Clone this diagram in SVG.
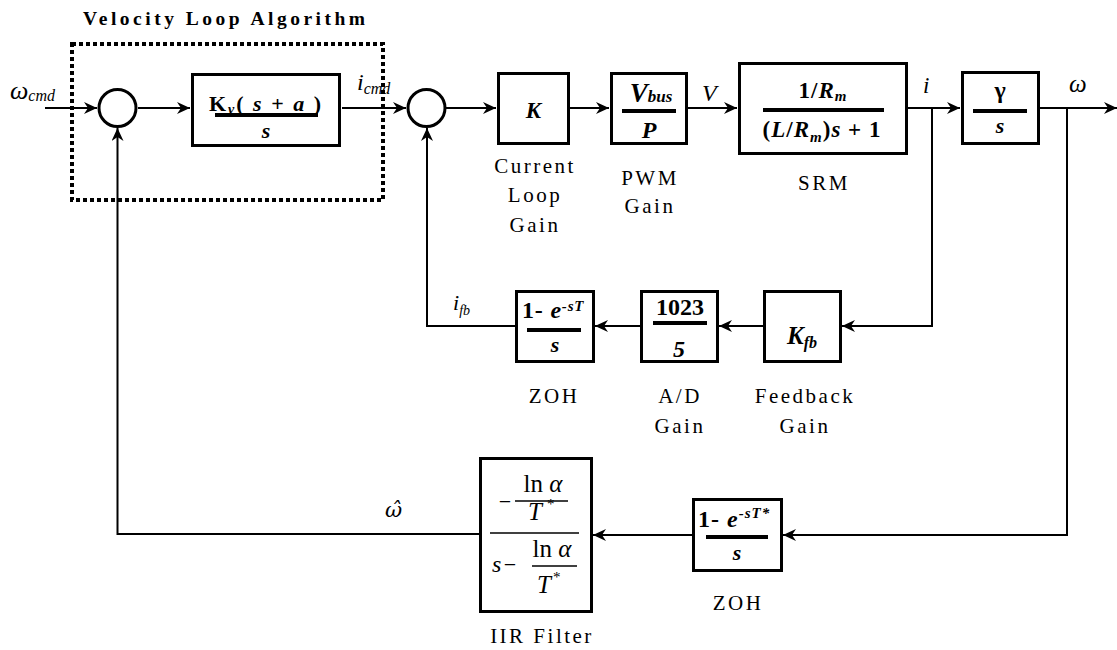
<svg xmlns="http://www.w3.org/2000/svg" width="1117" height="650" viewBox="0 0 1117 650" font-family="'Liberation Serif', Tinos, 'Times New Roman', Times, 'DejaVu Serif', serif">
<style>
text{font-family:'Liberation Serif',Tinos,'Times New Roman',Times,'DejaVu Serif',serif;fill:#000}
.lbl{font-size:21px;letter-spacing:2.5px;text-anchor:middle}
.b{font-weight:bold}
.bi{font-weight:bold;font-style:italic}
.it{font-style:italic}
.mid{text-anchor:middle}
.box{fill:#fff;stroke:#000;stroke-width:3}
.sum{fill:#fff;stroke:#000;stroke-width:3}
.bar{stroke:#000;stroke-width:4}
.thin{stroke:#000;stroke-width:1.3}
.wire{fill:none;stroke:#000;stroke-width:2}
.arr{marker-end:url(#ah)}
</style>
<defs>
<marker id="ah" markerUnits="userSpaceOnUse" markerWidth="14" markerHeight="12" refX="13" refY="6" orient="auto">
<path d="M0,0 L13,6 L0,12 L4,6 z" fill="#000"/>
</marker>
</defs>
<rect width="1117" height="650" fill="#fff"/>

<g id="connectors">
<path class="wire arr" d="M45,108 H97"/>
<path class="wire arr" d="M138,108 H190"/>
<path class="wire arr" d="M342,108 H406"/>
<path class="wire arr" d="M446,108 H496"/>
<path class="wire arr" d="M570,108 H609"/>
<path class="wire arr" d="M688,108 H737"/>
<path class="wire arr" d="M908,108 H960"/>
<path class="wire arr" d="M1040,108 H1117"/>
<path class="wire arr" d="M932,108 V326 H842"/>
<path class="wire arr" d="M763,326 H719"/>
<path class="wire arr" d="M640,326 H595"/>
<path class="wire arr" d="M515,326 H427 V128"/>
<path class="wire arr" d="M1067,108 V535 H783"/>
<path class="wire arr" d="M692,535 H593"/>
<path class="wire arr" d="M479,534 H117.5 V128"/>
</g>

<g id="velocity-loop">
<rect x="72" y="44" width="311" height="156" fill="none" stroke="#000" stroke-width="4" stroke-dasharray="4 3"/>
<text x="83" y="25" class="b" style="font-size:19.5px;letter-spacing:3.5px">Velocity Loop Algorithm</text>
</g>

<g id="input-label">
<text x="10" y="99" class="it" style="font-size:26px">ω<tspan style="font-size:16px" dy="2">cmd</tspan></text>
</g>

<g id="sum1"><circle class="sum" cx="117.5" cy="108" r="18.5"/></g>

<g id="kv-block">
<rect class="box" x="192.5" y="74.5" width="147" height="71"/>
<text x="266" y="111" class="mid b" style="font-size:22px;letter-spacing:2px">K<tspan class="bi" style="font-size:14px" dy="3">v</tspan><tspan dy="-3">( </tspan><tspan class="bi">s</tspan> + <tspan class="bi">a</tspan> )</text>
<line class="bar" x1="215" y1="115" x2="318" y2="115"/>
<text x="266" y="138" class="mid bi" style="font-size:22px">s</text>
</g>

<g id="icmd-label">
<text x="357" y="90" class="it" style="font-size:24px">i<tspan style="font-size:16px" dy="4">cmd</tspan></text>
</g>

<g id="sum2"><circle class="sum" cx="426.5" cy="108" r="18.5"/></g>

<g id="current-loop-gain">
<rect class="box" x="498.5" y="73.5" width="70" height="70"/>
<text x="533.5" y="118" class="mid bi" style="font-size:23px">K</text>
<text class="lbl" x="535" y="173">Current</text>
<text class="lbl" x="535" y="202">Loop</text>
<text class="lbl" x="535" y="232">Gain</text>
</g>

<g id="pwm-gain">
<rect class="box" x="611.5" y="73.5" width="75" height="70"/>
<text x="651" y="102" class="mid bi" style="font-size:27px">V<tspan style="font-size:17px">bus</tspan></text>
<line class="bar" x1="622" y1="111" x2="676" y2="111"/>
<text x="649" y="138" class="mid bi" style="font-size:24px">P</text>
<text class="lbl" x="650" y="185">PWM</text>
<text class="lbl" x="650" y="213">Gain</text>
</g>

<g id="v-label"><text x="702" y="101" class="it" style="font-size:24px">V</text></g>

<g id="srm">
<rect class="box" x="739.5" y="63.5" width="167" height="90"/>
<text x="823" y="98" class="mid b" style="font-size:23px;letter-spacing:1px">1/<tspan class="bi">R</tspan><tspan class="bi" style="font-size:15px" dy="3">m</tspan></text>
<line class="bar" x1="763" y1="110" x2="884" y2="110"/>
<text x="822" y="137" class="mid b" style="font-size:23px;letter-spacing:1px">(<tspan class="bi">L</tspan>/<tspan class="bi">R</tspan><tspan class="bi" style="font-size:15px" dy="5">m</tspan><tspan dy="-5">)</tspan><tspan class="bi">s</tspan> + 1</text>
<text class="lbl" x="824" y="190">SRM</text>
</g>

<g id="i-label"><text x="923" y="93" class="it" style="font-size:23px">i</text></g>

<g id="gamma-block">
<rect class="box" x="962.5" y="72.5" width="76" height="71"/>
<text x="1000" y="98" class="mid b" style="font-size:24px">γ</text>
<line class="bar" x1="973" y1="111" x2="1027" y2="111"/>
<text x="1000" y="133" class="mid bi" style="font-size:22px">s</text>
</g>

<g id="omega-label"><text x="1069" y="92" class="it" style="font-size:25px">ω</text></g>

<g id="ifb-label">
<text x="453" y="310" class="it" style="font-size:22px">i<tspan style="font-size:14px" dy="5">fb</tspan></text>
</g>

<g id="zoh1">
<rect class="box" x="516.5" y="291.5" width="77" height="70"/>
<text x="522" y="318" class="b" style="font-size:24px;letter-spacing:0.8px">1- <tspan class="bi">e</tspan><tspan class="bi" style="font-size:15px" dy="-7">-sT</tspan></text>
<line class="bar" x1="527" y1="330" x2="581" y2="330"/>
<text x="555" y="352" class="mid bi" style="font-size:22px">s</text>
<text class="lbl" x="554" y="403">ZOH</text>
</g>

<g id="ad-gain">
<rect class="box" x="641.5" y="291.5" width="76" height="70"/>
<text x="680" y="315" class="mid b" style="font-size:24px">1023</text>
<line class="bar" x1="653" y1="323" x2="707" y2="323"/>
<text x="679" y="357" class="mid bi" style="font-size:24px">5</text>
<text class="lbl" x="680" y="403">A/D</text>
<text class="lbl" x="680" y="433">Gain</text>
</g>

<g id="feedback-gain">
<rect class="box" x="764.5" y="291.5" width="76" height="70"/>
<text x="802" y="344" class="mid bi" style="font-size:25px">K<tspan style="font-size:16px" dy="4">fb</tspan></text>
<text class="lbl" x="805" y="403">Feedback</text>
<text class="lbl" x="805" y="433">Gain</text>
</g>

<g id="zoh2">
<rect class="box" x="693.5" y="499.5" width="88" height="71"/>
<text x="698" y="527" class="b" style="font-size:24px;letter-spacing:1px">1- <tspan class="bi">e</tspan><tspan class="bi" style="font-size:15px" dy="-9">-sT*</tspan></text>
<line class="bar" x1="706" y1="537" x2="768" y2="537"/>
<text x="737" y="560" class="mid bi" style="font-size:22px">s</text>
<text class="lbl" x="738" y="610">ZOH</text>
</g>

<g id="iir-filter">
<rect class="box" x="480.5" y="458.5" width="111" height="153"/>
<text x="505" y="509" class="mid" style="font-size:22px">−</text>
<text x="543" y="492" class="mid" style="font-size:25px">ln <tspan class="it">α</tspan></text>
<line class="thin" x1="515" y1="501" x2="568" y2="501"/>
<text x="535" y="520" class="mid it" style="font-size:25px">T</text>
<text x="547" y="509" style="font-size:15px">*</text>
<line class="thin" x1="490" y1="533" x2="579" y2="533"/>
<text x="492" y="572" class="it" style="font-size:24px">s</text>
<text x="510" y="572" class="mid" style="font-size:22px">−</text>
<text x="552" y="557" class="mid" style="font-size:25px">ln <tspan class="it">α</tspan></text>
<line class="thin" x1="532" y1="566" x2="577" y2="566"/>
<text x="544" y="593" class="mid it" style="font-size:25px">T</text>
<text x="553" y="582" style="font-size:15px">*</text>
<text class="lbl" x="542" y="643">IIR Filter</text>
</g>

<g id="omega-hat-label">
<text x="385" y="517" class="it" style="font-family:'DejaVu Serif',serif;font-size:21px">ω̂</text>
</g>
</svg>
